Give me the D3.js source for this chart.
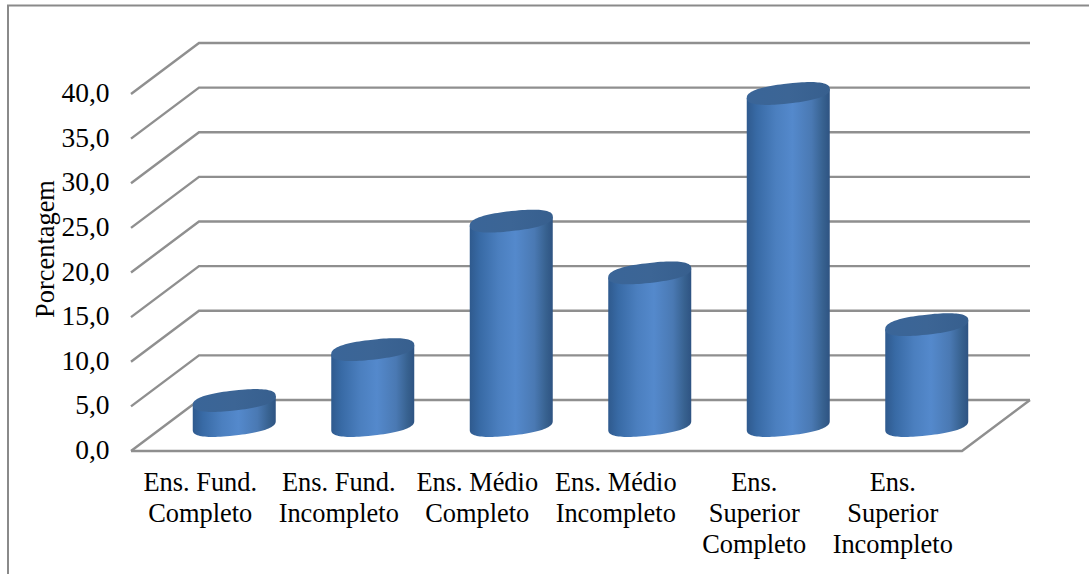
<!DOCTYPE html>
<html>
<head>
<meta charset="utf-8">
<script src="https://cdn.jsdelivr.net/npm/d3@7"></script>
<style>
  html, body { margin: 0; padding: 0; background: #fff; }
  svg { display: block; }
  text { font-family: "Liberation Serif", serif; fill: #000; }
</style>
</head>
<body>
<svg id="chart" width="1089" height="574"></svg>
<script>
const categories = [
  ["Ens. Fund.", "Completo"],
  ["Ens. Fund.", "Incompleto"],
  ["Ens. Médio", "Completo"],
  ["Ens. Médio", "Incompleto"],
  ["Ens.", "Superior", "Completo"],
  ["Ens.", "Superior", "Incompleto"]
];
const values = [2.8, 8.5, 22.9, 17.1, 37.2, 11.3];
const yTicks = [0, 5, 10, 15, 20, 25, 30, 35, 40];
const yTitle = "Porcentagem";
const fontSize = 26.4;
const tickFontSize = 27.5;

const svg = d3.select("#chart");

// Front plane of the 3D box; the back plane sits one depth step up and to the right.
const x = d3.scaleBand().domain(d3.range(categories.length)).range([131, 962]);
const y = d3.scaleLinear().domain([0, 40]).range([451, 94]);
const depth = { dx: 68, dy: -51 };

const defs = svg.append("defs");
const bodyGrad = defs.append("linearGradient").attr("id", "cyl-body");
[[0, "#2f5a8e"], [0.12, "#386aa5"], [0.35, "#4b7fbf"], [0.55, "#5489cc"],
 [0.78, "#4a79b3"], [0.92, "#37618f"], [1, "#2e5382"]]
  .forEach(([o, c]) => bodyGrad.append("stop").attr("offset", o).attr("stop-color", c));
const capGrad = defs.append("linearGradient").attr("id", "cyl-cap");
[[0, "#3a6598"], [0.5, "#3c6595"], [1, "#375f8e"]]
  .forEach(([o, c]) => capGrad.append("stop").attr("offset", o).attr("stop-color", c));

// Wall and frame rules
const gridColor = "#8f8f8f";
const grid = svg.append("g").attr("fill", "none").attr("stroke", gridColor).attr("stroke-width", 2.4);
const gridLine = d3.line();
yTicks.forEach(t => {
  grid.append("path").attr("d", gridLine([
    [x.range()[0], y(t)],
    [x.range()[0] + depth.dx, y(t) + depth.dy],
    [x.range()[1] + depth.dx, y(t) + depth.dy]
  ]));
});
grid.append("path").attr("d", gridLine([
  [x.range()[0], y(0)],
  [x.range()[1], y(0)],
  [x.range()[1] + depth.dx, y(0) + depth.dy]
]));

// Cylinders: caps are sheared superellipses, which keeps the shoulders round.
const halfW = 41.5, halfH = 10, shear = 4.5, roundness = 0.82;
const soft = c => Math.sign(c) * Math.pow(Math.abs(c), roundness);
const ringPoint = (cx, cy, t) => {
  const c = soft(Math.cos(t));
  return [cx + halfW * c, cy - shear * c - halfH * soft(Math.sin(t))];
};
const steps = 48;
const line = d3.line();
const bars = svg.append("g");
values.forEach((v, i) => {
  const cx = x(i) + x.bandwidth() / 2 + depth.dx / 2;
  const base = y(0) + depth.dy / 2;
  const top = y(v) + depth.dy / 2;
  const lower = d3.range(steps + 1).map(k => ringPoint(cx, base, Math.PI + Math.PI * k / steps));
  const body = [ringPoint(cx, top, Math.PI), ...lower, ringPoint(cx, top, 0)];
  bars.append("path").attr("d", line(body) + "Z").attr("fill", "url(#cyl-body)");
  const cap = d3.range(steps * 2).map(k => ringPoint(cx, top, Math.PI * k / steps));
  bars.append("path").attr("d", line(cap) + "Z").attr("fill", "url(#cyl-cap)");
});

// Value axis labels
const fmt = d => d.toFixed(1).replace(".", ",");
svg.append("g").selectAll("text").data(yTicks).join("text")
  .attr("x", 109.5).attr("y", d => y(d) + 8)
  .attr("text-anchor", "end").attr("font-size", tickFontSize)
  .text(fmt);

// Category labels
const cats = svg.append("g");
categories.forEach((lines, i) => {
  const t = cats.append("text").attr("text-anchor", "middle").attr("font-size", fontSize);
  lines.forEach((s, j) => {
    t.append("tspan").attr("x", x(i) + x.bandwidth() / 2).attr("y", 491 + j * 31).text(s);
  });
});

svg.append("text")
  .attr("transform", "translate(53.5,249) rotate(-90)")
  .attr("text-anchor", "middle").attr("font-size", fontSize)
  .text(yTitle);

// Outer frame
svg.append("path")
  .attr("d", "M8,574V5.5H1089")
  .attr("fill", "none").attr("stroke", "#8a8a8a").attr("stroke-width", 2);
</script>
</body>
</html>
